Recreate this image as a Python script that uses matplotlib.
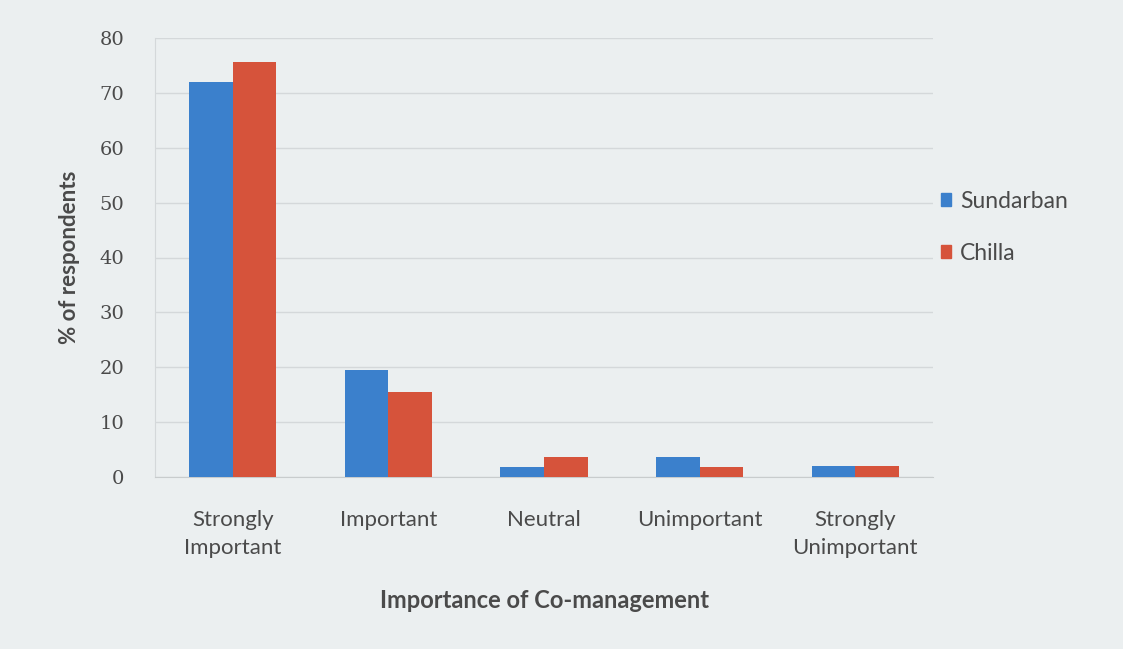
import numpy as np
import matplotlib.pyplot as plt
from matplotlib.patches import Patch

categories = ['Strongly\nImportant', 'Important', 'Neutral', 'Unimportant', 'Strongly\nUnimportant']
sundarban = [72, 19.5, 1.8, 3.6, 2]
chilla    = [75.7, 15.5, 3.6, 1.8, 2]
yticks    = [0, 10, 20, 30, 40, 50, 60, 70, 80]

blue = '#3b80cc'
red  = '#d6533b'
bg   = '#ebeff0'
txt  = '#4a4a4a'

fig = plt.figure(figsize=(11.23, 6.49), dpi=100, facecolor=bg)
ax = fig.add_axes([155 / 1123, 1 - 477 / 649, (933 - 155) / 1123, (477 - 38) / 649])
ax.set_facecolor(bg)

x = np.arange(len(categories))
w = 0.28
ax.bar(x - w / 2, sundarban, w, color=blue, zorder=3)
ax.bar(x + w / 2, chilla, w, color=red, zorder=3)

ax.set_xlim(-0.5, len(categories) - 0.5)
ax.set_ylim(0, 80)
ax.set_yticks(yticks)
ax.set_yticklabels([str(v) for v in yticks], family='DejaVu Serif', fontsize=14, color=txt)
ax.set_xticks(x)
ax.set_xticklabels(categories, family='Lato', fontsize=16, color=txt, linespacing=1.5)
ax.tick_params(axis='both', length=0)
ax.tick_params(axis='y', pad=22)
ax.tick_params(axis='x', pad=24)

ax.grid(axis='y', color='#d4d8da', linewidth=1, zorder=0)
for side in ['top', 'right']:
    ax.spines[side].set_visible(False)
ax.spines['left'].set_color('#d4d8da')
ax.spines['bottom'].set_color('#c8cccd')

ax.set_ylabel('% of respondents', family='Lato', fontsize=16, fontweight='bold', color=txt, labelpad=14)
ax.set_xlabel('Importance of Co-management', family='Lato', fontsize=17, fontweight='bold', color=txt, labelpad=22)

handles = [Patch(color=blue, label='Sundarban'), Patch(color=red, label='Chilla')]
fig.legend(handles=handles, loc='upper left', bbox_to_anchor=(920 / 1123, 1 - 170 / 649),
           frameon=False, prop={'family': 'Lato', 'size': 16.5}, labelcolor=txt,
           handlelength=0.45, handleheight=0.45, handletextpad=0.4, labelspacing=1.35)

fig.savefig('out.png', dpi=100, facecolor=bg)
